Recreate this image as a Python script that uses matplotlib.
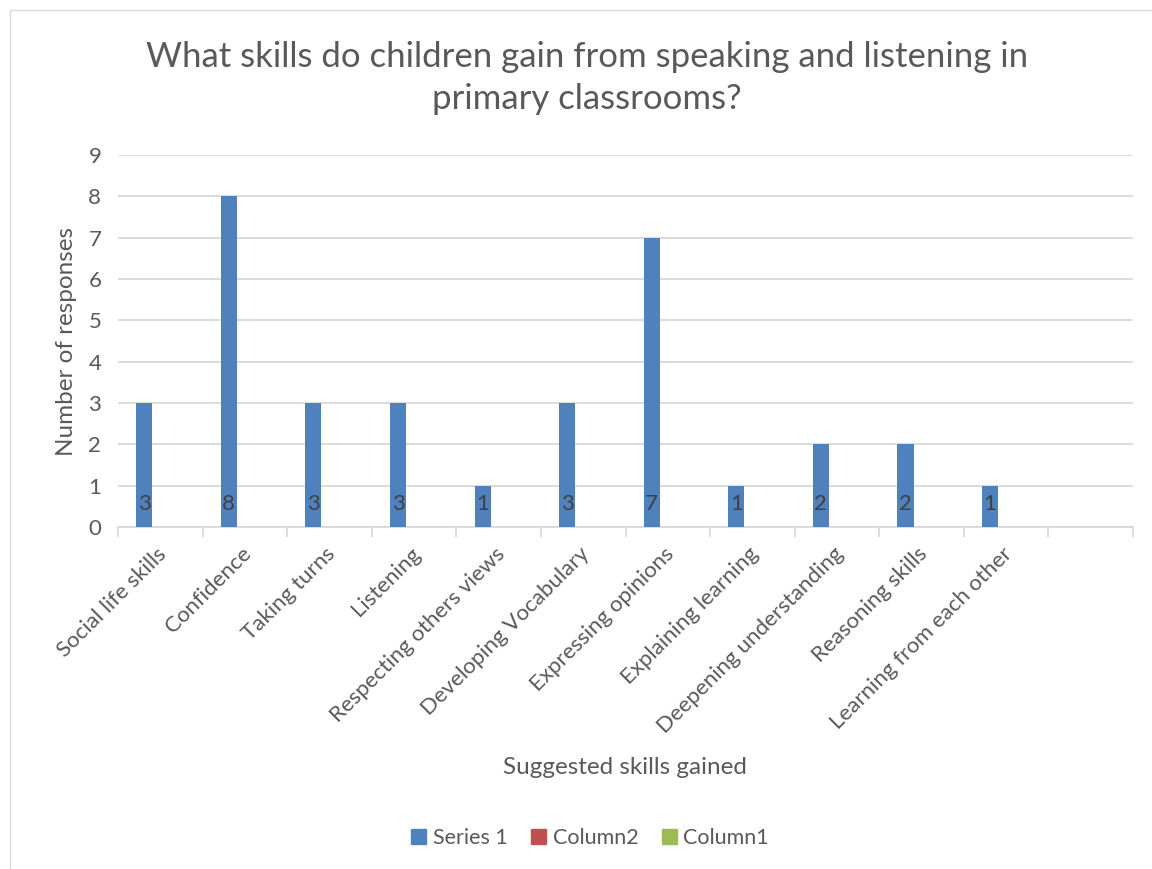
import numpy as np
import matplotlib.pyplot as plt
from matplotlib.patches import Rectangle, Patch

plt.rcParams['font.family'] = ['Lato', 'DejaVu Sans']

# Survey responses
skills = ["Social life skills", "Confidence", "Taking turns", "Listening",
          "Respecting others views", "Developing Vocabulary", "Expressing opinions",
          "Explaining learning", "Deepening understanding", "Reasoning skills",
          "Learning from each other", ""]
series1 = [3, 8, 3, 3, 1, 3, 7, 1, 2, 2, 1, None]
column2 = [None] * 12
column1 = [None] * 12

blue = "#4f81bd"
red = "#c0504d"
green = "#9bbb59"
text_col = "#595959"
grid_col = "#d9d9d9"

fig = plt.figure(figsize=(11.52, 8.69), dpi=100)
fig.patches.append(Rectangle((10 / 1152, -0.05), 1.2, 1.05 - 10 / 869,
                             transform=fig.transFigure, fill=False,
                             edgecolor=grid_col, linewidth=1.0))

ax = fig.add_axes([118 / 1152, 1 - 527 / 869, (1133 - 118) / 1152, (527 - 155) / 869])

x = np.arange(len(skills))
w = 0.19
vals = [v if v is not None else 0 for v in series1]
ax.bar(x - w, vals, width=w, color=blue, zorder=3)

for xi, v in zip(x, series1):
    if v is not None:
        ax.text(xi - w, 0.55, str(v), ha='center', va='center',
                fontsize=16, color="#404040", zorder=4)

ax.set_xlim(-0.5, len(skills) - 0.5)
ax.set_ylim(0, 9)
ax.set_yticks(range(0, 10))
ax.yaxis.grid(True, color=grid_col, linewidth=1.3, zorder=0)
ax.tick_params(axis='y', length=0, labelsize=16, labelcolor=text_col, pad=12)

for s in ['top', 'right', 'left']:
    ax.spines[s].set_visible(False)
ax.spines['bottom'].set_color(grid_col)
ax.spines['bottom'].set_linewidth(1.3)

# tick marks on category boundaries, labels at centres
ax.set_xticks(np.arange(-0.5, len(skills)))
ax.set_xticklabels([])
ax.tick_params(axis='x', length=7, width=1.3, color=grid_col)
for xi, name in zip(x, skills):
    ax.annotate(name, xy=(xi, 0), xycoords=('data', 'axes fraction'),
                xytext=(-3, -12), textcoords='offset points',
                rotation=45, ha='right', va='top', rotation_mode='anchor',
                fontsize=16, color=text_col)

ax.set_ylabel("Number of responses", fontsize=17.5, color=text_col, labelpad=8)
fig.text(625 / 1152, 1 - 768 / 869, "Suggested skills gained", ha='center', va='center',
         fontsize=17.5, color=text_col)

fig.text(587 / 1152, 1 - 78 / 869,
         "What skills do children gain from speaking and listening in\nprimary classrooms?",
         ha='center', va='center', fontsize=25, color=text_col, linespacing=1.4)

handles = [Patch(color=blue, label="Series 1"),
           Patch(color=red, label="Column2"),
           Patch(color=green, label="Column1")]
fig.legend(handles=handles, loc='center', bbox_to_anchor=(590 / 1152, 1 - 838 / 869),
           ncol=3, frameon=False, fontsize=15.5, labelcolor=text_col,
           handlelength=0.7, handleheight=0.7, handletextpad=0.3, columnspacing=1.1)

fig.savefig("out.png", dpi=100, facecolor='white')
